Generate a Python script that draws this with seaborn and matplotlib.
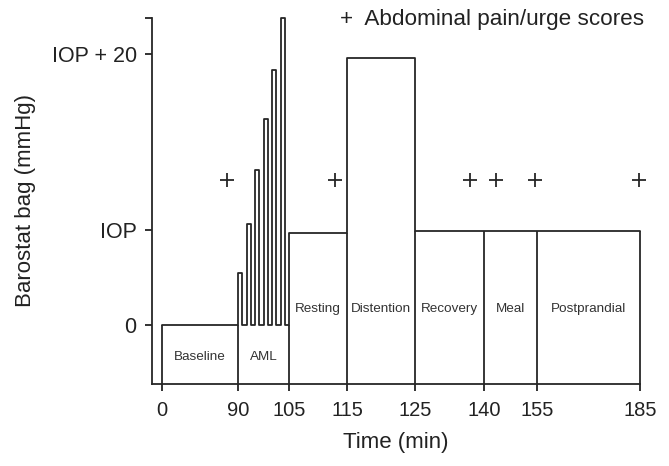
import numpy as np
import pandas as pd
import matplotlib
matplotlib.use("Agg")
import matplotlib.pyplot as plt
import seaborn as sns

# Datos
tiempos = [0, 90, 105, 115, 125, 140, 155, 185]          # minutos (marcas del eje x)
fases = ["Baseline", "AML", "Resting", "Distention", "Recovery", "Meal", "Postprandial"]
nivel_fase = [0.0, 0.0, 0.97, 2.81, 0.99, 0.99, 0.99]    # presión de la bolsa (1 = IOP)

# Pulsos del método de límites ascendentes (AML)
inicio_pulsos = [90, 92.5, 95, 97.5, 100, 102.5]
altura_pulsos = [0.55, 1.06, 1.63, 2.17, 2.68, 3.235]
ancho_pulso = 1.3

# Momentos de las puntuaciones de dolor/urgencia
t_dolor = [77, 113, 137, 143.5, 154.5, 184.7]
y_dolor = 1.53

# Etiquetas del eje y
y_marcas = [0, 1, 2.853, 3.235]
y_textos = ["0", "IOP", "IOP + 20", ""]

# El eje x no es lineal: posición relativa de cada marca
pos_eje = [0, 76, 127, 185, 253, 322, 375, 478]

sns.set_style("ticks")
plt.rcParams["font.family"] = ["Liberation Sans", "DejaVu Sans"]
color = "#262626"


def adelante(t):
    t = np.asarray(t, float)
    p = np.interp(t, tiempos, pos_eje)
    return np.where(t < 0, t * pos_eje[1] / tiempos[1], p)


def atras(p):
    p = np.asarray(p, float)
    t = np.interp(p, pos_eje, tiempos)
    return np.where(p < 0, p * tiempos[1] / pos_eje[1], t)


fig = plt.figure(figsize=(6.69, 4.66), dpi=100)
ax = fig.add_axes([152 / 669, 1 - 384 / 466, (640 - 152) / 669, (384 - 17.7) / 466])
ax.set_xscale("function", functions=(adelante, atras))
y_min = -0.621
ax.set_xlim(-10 * tiempos[1] / pos_eje[1], tiempos[-1])
ax.set_ylim(y_min, y_marcas[-1])

# Traza escalonada de la presión
t_traza = [tiempos[0]]
y_traza = [nivel_fase[0]]
for ti, hi in zip(inicio_pulsos, altura_pulsos):
    t_traza += [ti, ti + ancho_pulso]
    y_traza += [hi, 0]
for ti, ni in zip(tiempos[2:-1], nivel_fase[2:]):
    t_traza.append(ti)
    y_traza.append(ni)
t_traza.append(tiempos[-1])
y_traza.append(nivel_fase[-1])
df_traza = pd.DataFrame({"tiempo": t_traza, "nivel": y_traza})

sns.lineplot(data=df_traza, x="tiempo", y="nivel", sort=False, estimator=None,
             drawstyle="steps-post", color=color, linewidth=1.3, clip_on=False, ax=ax)

# Líneas verticales que cierran cada fase
topes = []
for i in range(len(tiempos)):
    vecinos = nivel_fase[max(i - 1, 0):i + 1]
    topes.append(min(vecinos))
ax.vlines(tiempos, y_min, topes, color=color, linewidth=1.3, clip_on=False)

# Nombres de las fases
for i, fase in enumerate(fases):
    centro = atras((adelante(tiempos[i]) + adelante(tiempos[i + 1])) / 2)
    y_txt = -0.34 if i < 2 else 0.17
    ax.text(centro, y_txt, fase, ha="center", va="center", fontsize=9.7, color="#333333")

# Puntuaciones de dolor
sns.scatterplot(x=t_dolor, y=[y_dolor] * len(t_dolor), marker="+", s=110,
                color=color, linewidth=1.3, clip_on=False, ax=ax)

fig.text(644 / 669, 1 - 20 / 466, "+  Abdominal pain/urge scores", ha="right",
         va="center", fontsize=16.2, color="#222222")

ax.set_xticks(tiempos)
ax.set_xticklabels([str(t) for t in tiempos])
ax.xaxis.set_minor_locator(matplotlib.ticker.NullLocator())
ax.set_yticks(y_marcas)
ax.set_yticklabels(y_textos)
ax.tick_params(length=5, width=1.3, colors="#222222")
ax.tick_params(axis="x", labelsize=14.5, pad=7)
ax.tick_params(axis="y", labelsize=15.5, pad=6)
ax.set_xlabel("Time (min)", fontsize=16, labelpad=9, color="#222222")
ax.set_ylabel("Barostat bag (mmHg)", fontsize=16, labelpad=11, color="#222222")
sns.despine(ax=ax)
for s in ["left", "bottom"]:
    ax.spines[s].set_linewidth(1.3)
    ax.spines[s].set_color(color)

fig.savefig("out.png", dpi=100)
